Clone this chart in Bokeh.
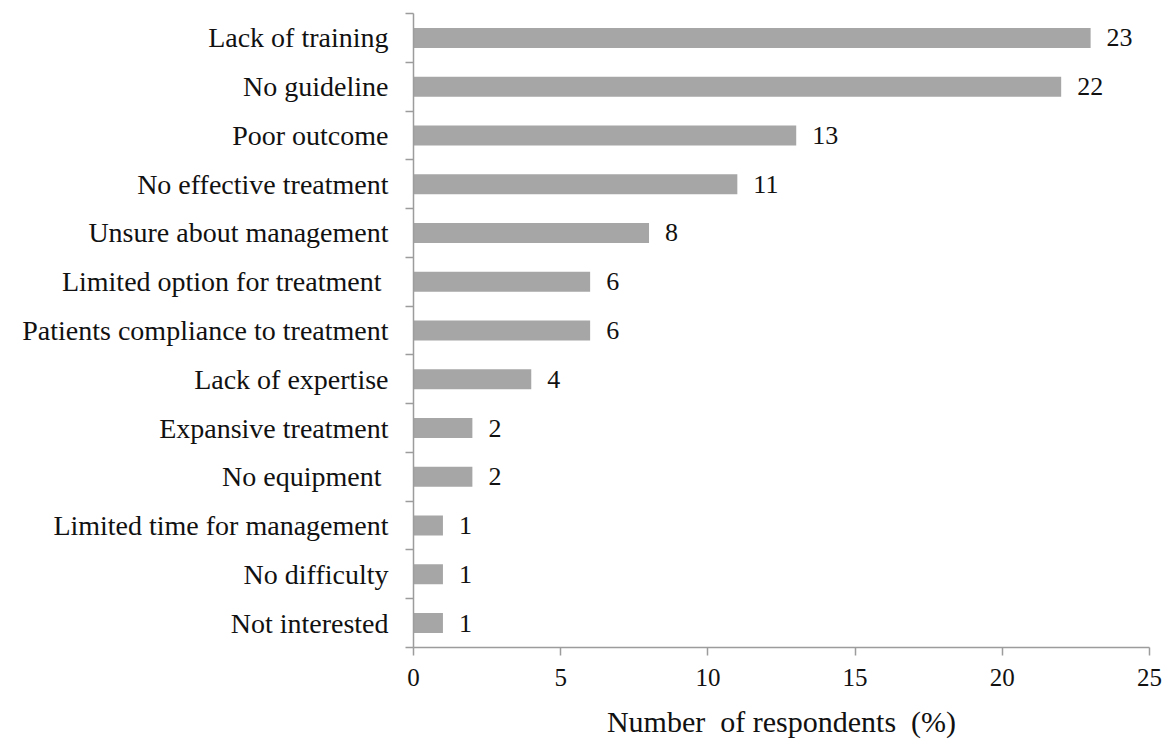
from bokeh.plotting import figure
from bokeh.models import ColumnDataSource, FixedTicker, Range1d
from bokeh.core.properties import value
from bokeh.embed import file_html
from bokeh.resources import INLINE

# Reported difficulties, top to bottom as drawn
categories = [
    "Lack of training",
    "No guideline",
    "Poor outcome",
    "No effective treatment",
    "Unsure about management",
    "Limited option for treatment ",
    "Patients compliance to treatment",
    "Lack of expertise",
    "Expansive treatment",
    "No equipment ",
    "Limited time for management",
    "No difficulty",
    "Not interested",
]
percentages = [23, 22, 13, 11, 8, 6, 6, 4, 2, 2, 1, 1, 1]
x_ticks = [0, 5, 10, 15, 20, 25]
x_title = "Number\u00a0 of respondents\u00a0 (%)"

n = len(categories)
positions = [n - 1 - i for i in range(n)]  # first category at the top

source = ColumnDataSource(dict(
    y=positions,
    pct=percentages,
    label=[str(v) for v in percentages],
))

FONT = "Liberation Serif"
AXIS_GRAY = "#9c9c9c"
TEXT = "#111111"

p = figure(
    width=1169, height=742,
    x_range=Range1d(0, 25), y_range=Range1d(-0.5, n - 0.5),
    output_backend="svg", toolbar_location=None,
    min_border_left=413, min_border_right=20,
    min_border_top=13, min_border_bottom=95,
)
p.outline_line_color = None
p.xgrid.visible = False
p.ygrid.visible = False

p.hbar(y="y", right="pct", left=0, height=0.41, source=source,
       fill_color="#a6a6a6", line_color=None)

p.text(x="pct", y="y", text="label", source=source,
       x_offset=16, text_align="left", text_baseline="middle",
       text_font=value(FONT), text_font_size="26px", text_color=TEXT)

# Category axis: names at bar centres, tick marks between bars
yax = p.yaxis[0]
yax.ticker = FixedTicker(ticks=positions,
                         minor_ticks=[k - 0.5 for k in range(n + 1)])
yax.major_label_overrides = {pos: cat for pos, cat in zip(positions, categories)}
yax.major_tick_out = 0
yax.major_tick_in = 0
yax.minor_tick_out = 8
yax.minor_tick_in = 0
yax.minor_tick_line_color = AXIS_GRAY
yax.minor_tick_line_width = 1.5
yax.axis_line_color = AXIS_GRAY
yax.axis_line_width = 1.5
yax.major_label_standoff = 17
yax.major_label_text_font = FONT
yax.major_label_text_font_size = "28px"
yax.major_label_text_color = TEXT

xax = p.xaxis[0]
xax.ticker = FixedTicker(ticks=x_ticks)
xax.major_tick_out = 8
xax.major_tick_in = 0
xax.minor_tick_line_color = None
xax.major_tick_line_color = AXIS_GRAY
xax.major_tick_line_width = 1.5
xax.axis_line_color = AXIS_GRAY
xax.axis_line_width = 1.5
xax.major_label_standoff = 13
xax.major_label_text_font = FONT
xax.major_label_text_font_size = "25px"
xax.major_label_text_color = TEXT
xax.axis_label = x_title
xax.axis_label_text_font = FONT
xax.axis_label_text_font_style = "normal"
xax.axis_label_text_font_size = "30px"
xax.axis_label_text_color = TEXT
xax.axis_label_standoff = 16

open("out.html", "w").write(file_html(p, INLINE))
